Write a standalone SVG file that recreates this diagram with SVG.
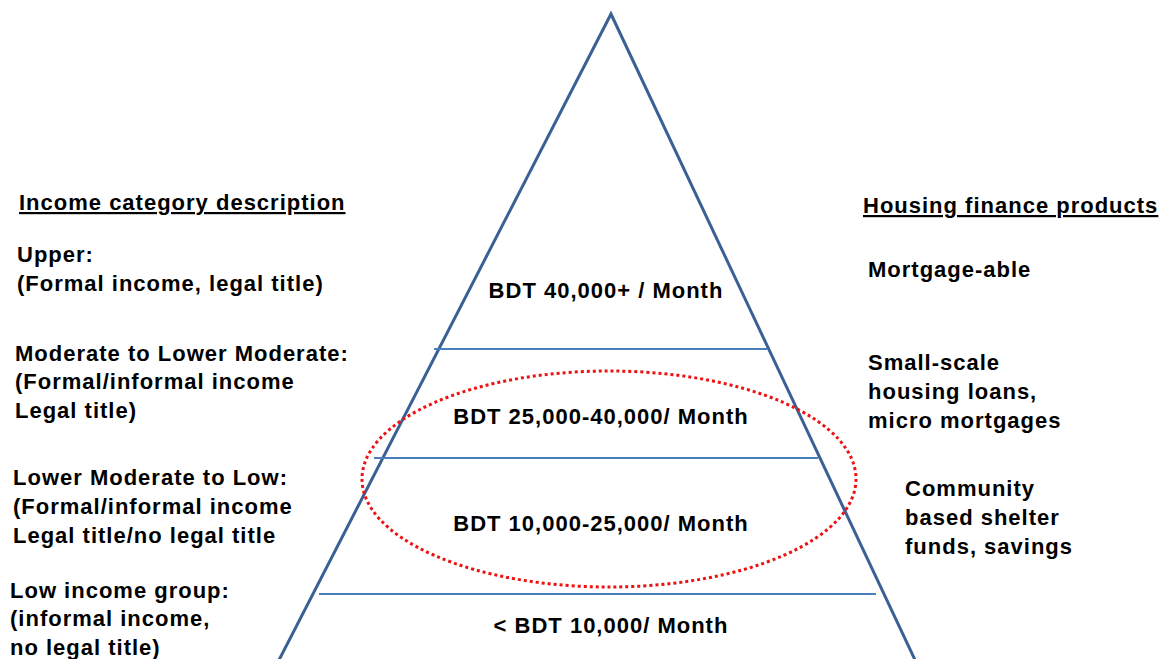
<svg xmlns="http://www.w3.org/2000/svg" width="1161" height="659" viewBox="0 0 1161 659">
  <style>
    text { font-family: "Liberation Sans", Arial, sans-serif; font-weight: bold; font-size: 22px; letter-spacing: 1px; fill: #000; }
    .head { text-decoration: underline; }
    .mid { text-anchor: middle; }
    .edge { fill: none; stroke: #3b6094; stroke-width: 3; }
    .band { stroke: #4a7ebb; stroke-width: 2; }
  </style>
  <rect width="1161" height="659" fill="#fff"/>

  <!-- pyramid outline and band dividers -->
  <g id="connectors">
    <polyline class="edge" points="278,662 611,14 916,662"/>
    <line class="band" x1="434" y1="349" x2="767" y2="349"/>
    <line class="band" x1="374" y1="458" x2="818" y2="458"/>
    <line class="band" x1="319" y1="594" x2="876" y2="594"/>
  </g>

  <!-- highlighted middle-income bands -->
  <g id="highlight">
    <ellipse cx="609" cy="479" rx="247" ry="108" fill="none" stroke="#ee1111" stroke-width="3" stroke-dasharray="3 3"/>
  </g>

  <g id="band-upper"><text class="mid" x="606" y="298">BDT 40,000+ / Month</text></g>
  <g id="band-moderate"><text class="mid" x="601" y="424">BDT 25,000-40,000/ Month</text></g>
  <g id="band-lower"><text class="mid" x="601" y="531">BDT 10,000-25,000/ Month</text></g>
  <g id="band-low"><text class="mid" x="611" y="633">&lt; BDT 10,000/ Month</text></g>

  <!-- income category descriptions -->
  <g id="left-heading"><text class="head" x="19" y="210">Income category description</text></g>
  <g id="left-upper">
    <text x="17" y="262">Upper:</text>
    <text x="17" y="291">(Formal income, legal title)</text>
  </g>
  <g id="left-moderate">
    <text x="15" y="361">Moderate to Lower Moderate:</text>
    <text x="15" y="389">(Formal/informal income</text>
    <text x="15" y="418">Legal title)</text>
  </g>
  <g id="left-lower">
    <text x="13" y="485">Lower Moderate to Low:</text>
    <text x="13" y="514">(Formal/informal income</text>
    <text x="13" y="543">Legal title/no legal title</text>
  </g>
  <g id="left-low">
    <text x="10" y="598">Low income group:</text>
    <text x="10" y="626">(informal income,</text>
    <text x="10" y="655">no legal title)</text>
  </g>

  <!-- housing finance products -->
  <g id="right-heading"><text class="head" x="863" y="213">Housing finance products</text></g>
  <g id="right-upper"><text x="868" y="277">Mortgage-able</text></g>
  <g id="right-moderate">
    <text x="868" y="370">Small-scale</text>
    <text x="868" y="399">housing loans,</text>
    <text x="868" y="428">micro mortgages</text>
  </g>
  <g id="right-lower">
    <text x="905" y="496">Community</text>
    <text x="905" y="525">based shelter</text>
    <text x="905" y="554">funds, savings</text>
  </g>
</svg>
